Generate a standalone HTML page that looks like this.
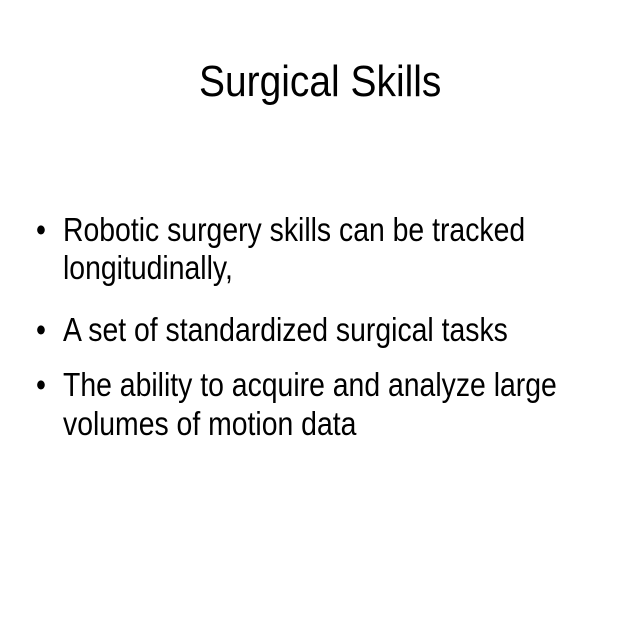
<!DOCTYPE html>
<html><head><meta charset="utf-8"><style>
html,body{margin:0;padding:0;background:#fff;}
#slide{position:relative;width:640px;height:640px;overflow:hidden;background:#fff;font-family:"Liberation Sans",Arial,sans-serif;color:#000;}
.t{position:absolute;white-space:nowrap;transform:scaleX(0.86);transform-origin:0 0;line-height:1;}
.title{font-size:44px;transform:scaleX(0.885);}
.b{font-size:33px;}
</style></head><body>
<div id="slide">
<div class="t title" style="left:199px;top:60px">Surgical Skills</div>
<div class="t b" style="left:36px;top:213px">•</div>
<div class="t b" style="left:63px;top:213px">Robotic surgery skills can be tracked</div>
<div class="t b" style="left:63px;top:251px">longitudinally,</div>
<div class="t b" style="left:36px;top:313px">•</div>
<div class="t b" style="left:63px;top:313px">A set of standardized surgical tasks</div>
<div class="t b" style="left:36px;top:368px">•</div>
<div class="t b" style="left:63px;top:368px">The ability to acquire and analyze large</div>
<div class="t b" style="left:63px;top:407px">volumes of motion data</div>
</div>
</body></html>
